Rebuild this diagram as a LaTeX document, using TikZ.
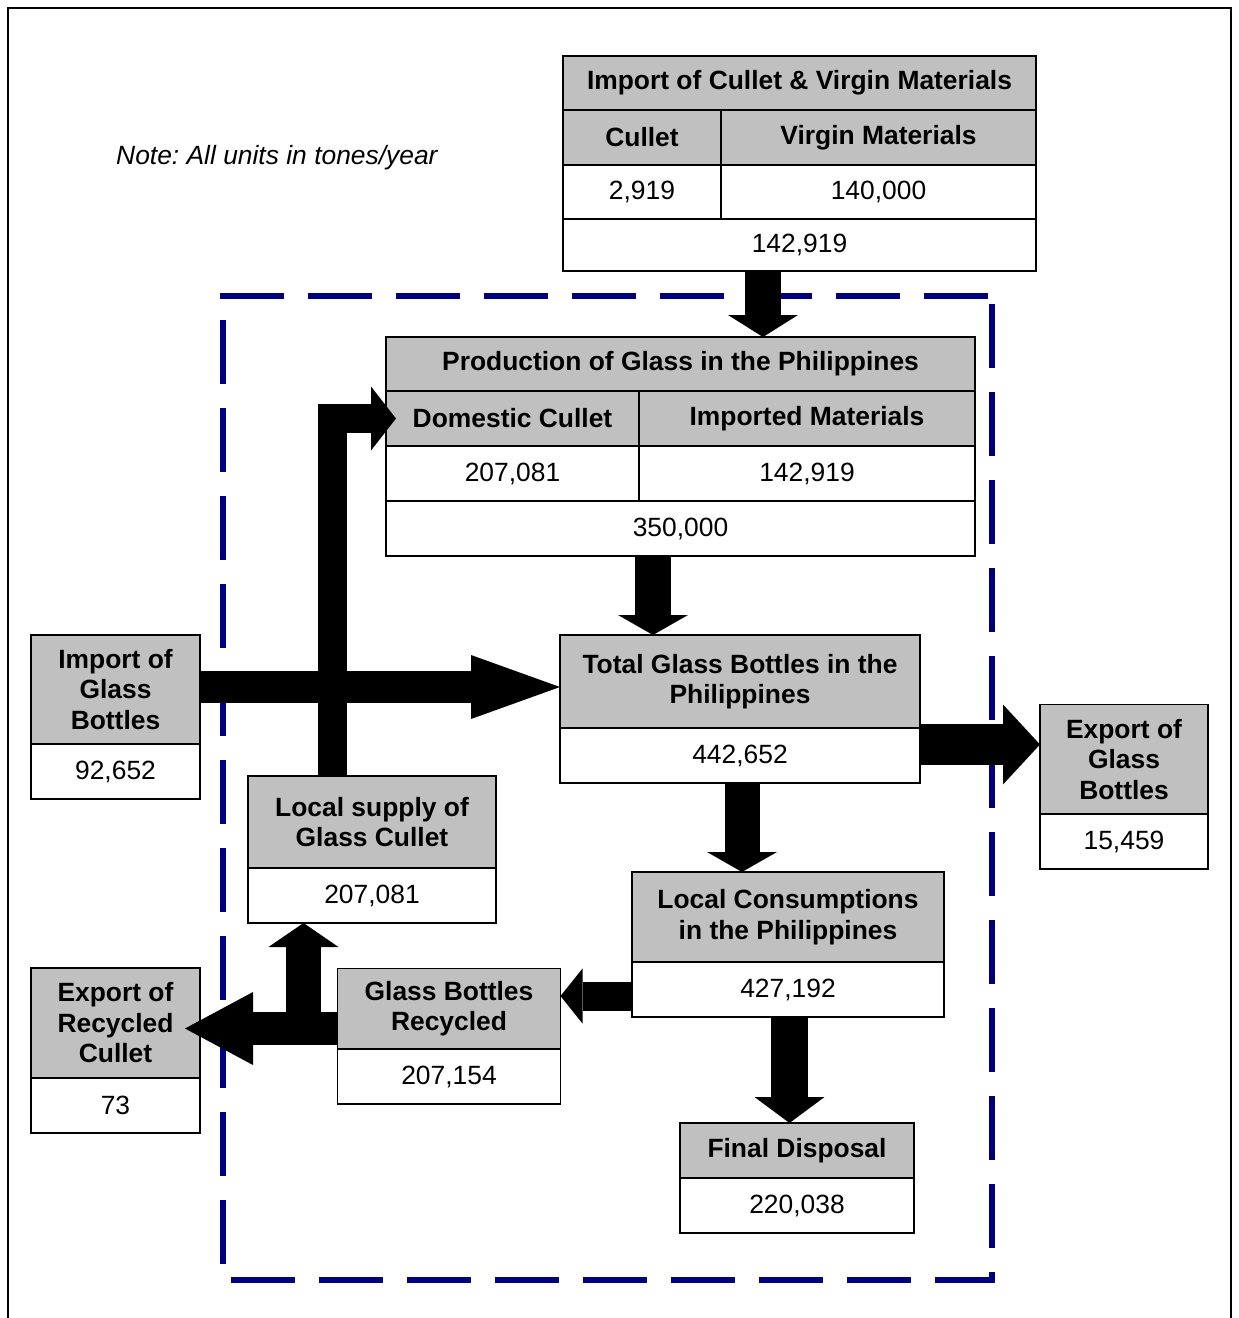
\documentclass[tikz,border=0pt]{standalone}
\usepackage{fontspec}
\setmainfont{Liberation Sans}
\usetikzlibrary{arrows.meta, positioning}
\definecolor{cellgray}{RGB}{192,192,192}
\definecolor{boundblue}{RGB}{0,0,128}

\begin{document}
\begin{tikzpicture}[
    x=1pt, y=-1pt,
    cell/.style={rectangle, draw=black, line width=1.6pt, inner sep=0pt, outer sep=0pt, align=center},
    head/.style={cell, fill=cellgray, font=\bfseries\fontsize{26.4}{30.5}\selectfont},
    value/.style={cell, fill=white, font=\fontsize{26.4}{30.5}\selectfont, minimum height=55pt},
    boundary/.style={draw=boundblue, line width=6pt, dash pattern=on 64pt off 24pt},
    flow/.style n args={3}{draw=black, line width=#1, -{Triangle[length=#2, width=#3, line width=0pt]}}
]
    \useasboundingbox (0,0) rectangle (1239,1318);
    \draw[line width=2pt] (8,1330) -- (8,8) -- (1231,8) -- (1231,1330);

    % system boundary
    \draw[boundary] (220,296) -- (992,296);
    \draw[boundary, dash phase=80pt] (992,296) -- (992,1280);
    \draw[boundary, dash phase=80pt] (223,1280) -- (995,1280);
    \draw[boundary, dash phase=64pt] (223,296) -- (223,1280);

    \node[font=\itshape\fontsize{26.4}{30.5}\selectfont, inner sep=0pt, anchor=base west] (note) at (116,164) {Note:\ All units in tones/year};

    % import of cullet and virgin materials
    \node[head, minimum width=473pt, minimum height=54pt, anchor=north west] (imptitle) at (563,56) {Import of Cullet \& Virgin Materials};
    \node[head, minimum width=158pt, minimum height=55pt, anchor=north west] (impcul) at (imptitle.south west) {Cullet};
    \node[head, minimum width=315pt, minimum height=55pt, right=0pt of impcul] (impvir) {Virgin Materials};
    \node[value, minimum width=158pt, minimum height=54pt, below=0pt of impcul] (impculval) {2,919};
    \node[value, minimum width=315pt, minimum height=54pt, below=0pt of impvir] (impvirval) {140,000};
    \node[value, minimum width=473pt, minimum height=52pt, anchor=north west] (impsum) at (impculval.south west) {142,919};

    % production
    \node[head, minimum width=589pt, minimum height=54pt, anchor=north west] (prodtitle) at (386,337) {Production of Glass in the Philippines};
    \node[head, minimum width=253pt, minimum height=55pt, anchor=north west] (prodcul) at (prodtitle.south west) {Domestic Cullet};
    \node[head, minimum width=336pt, minimum height=55pt, right=0pt of prodcul] (prodimp) {Imported Materials};
    \node[value, minimum width=253pt, below=0pt of prodcul] (prodculval) {207,081};
    \node[value, minimum width=336pt, below=0pt of prodimp] (prodimpval) {142,919};
    \node[value, minimum width=589pt, anchor=north west] (prodsum) at (prodculval.south west) {350,000};

    % bottles
    \node[head, minimum width=169pt, minimum height=109pt, anchor=north west] (ibthead) at (31,635) {Import of\\Glass\\Bottles};
    \node[value, minimum width=169pt, below=0pt of ibthead] (ibtval) {92,652};

    \node[head, minimum width=360pt, minimum height=93pt, anchor=north west] (tothead) at (560,635) {Total Glass Bottles in the\\Philippines};
    \node[value, minimum width=360pt, below=0pt of tothead] (totval) {442,652};

    \node[head, minimum width=168pt, minimum height=109.5pt, anchor=north west] (ebthead) at (1040,704.5) {Export of\\Glass\\Bottles};
    \node[value, minimum width=168pt, below=0pt of ebthead] (ebtval) {15,459};

    \node[head, minimum width=248pt, minimum height=92pt, anchor=north west] (lschead) at (248,776) {Local supply of\\Glass Cullet};
    \node[value, minimum width=248pt, below=0pt of lschead] (lscval) {207,081};

    \node[head, minimum width=312pt, minimum height=90pt, anchor=north west] (lconhead) at (632,872) {Local Consumptions\\in the Philippines};
    \node[value, minimum width=312pt, below=0pt of lconhead] (lconval) {427,192};

    \node[head, minimum width=223pt, minimum height=80.5pt, anchor=north west] (gbrhead) at (337.5,968.5) {Glass Bottles\\Recycled};
    \node[value, minimum width=223pt, below=0pt of gbrhead] (gbrval) {207,154};

    \node[head, minimum width=169pt, minimum height=110pt, anchor=north west] (erchead) at (31,968) {Export of\\Recycled\\Cullet};
    \node[value, minimum width=169pt, below=0pt of erchead] (ercval) {73};

    \node[head, minimum width=234pt, minimum height=55pt, anchor=north west] (finhead) at (680,1123) {Final Disposal};
    \node[value, minimum width=234pt, below=0pt of finhead] (finval) {220,038};

    % flows
    \coordinate (erctip) at ([xshift=-15pt]erchead.east);
    \coordinate (split) at (303.5,1028.5);
    \draw[flow={36pt}{22pt}{70pt}] ([xshift=-36.5pt]impsum.south) -- ([xshift=-36.5pt]impsum.south |- prodtitle.north);
    \draw[flow={36pt}{20pt}{70pt}] ([xshift=-27.5pt]prodsum.south) -- ([xshift=-27.5pt]prodsum.south |- tothead.north);
    \draw[flow={32pt}{89pt}{64pt}] ([yshift=2.5pt]ibthead.east) -- ([yshift=2.5pt]ibthead.east -| tothead.west);
    \draw[flow={41pt}{37pt}{80pt}] ([yshift=11pt]totval.east) -- ([yshift=11pt]totval.east -| ebthead.west);
    \draw[flow={35pt}{20pt}{70pt}] ([xshift=2pt]totval.south) -- ([xshift=2pt]totval.south |- lconhead.north);
    \draw[flow={37pt}{26pt}{70pt}] ([xshift=1.5pt]lconval.south) -- ([xshift=1.5pt]lconval.south |- finhead.north);
    \draw[flow={29pt}{22pt}{55pt}] ([yshift=-6.5pt]lconval.west) -- ([yshift=-6.5pt]lconval.west -| gbrhead.east);
    \draw[flow={33pt}{68pt}{73pt}] ([yshift=-19.75pt]gbrhead.west) -- ([yshift=-19.75pt]gbrhead.west -| erctip);
    \draw[flow={35pt}{24pt}{70pt}] (split) -- (split |- lscval.south);
    \draw[flow={29pt}{25pt}{64pt}] ([xshift=-40pt]lschead.north) |- ([xshift=10pt]prodcul.west);
\end{tikzpicture}
\end{document}
